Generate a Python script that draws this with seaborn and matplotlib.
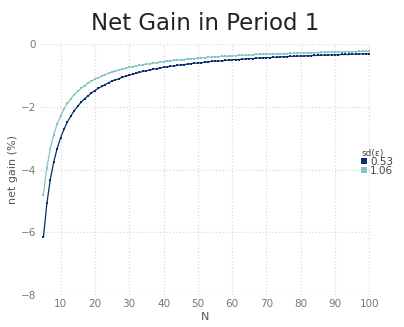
import pandas as pd
import seaborn as sns
import matplotlib.pyplot as plt

n_values = list(range(5, 101))

# net gain (%), one value per N
gain_053 = [-6.16, -5.08, -4.32, -3.76, -3.33, -2.99, -2.71, -2.48, -2.29, -2.12,
            -1.98, -1.85, -1.74, -1.65, -1.56, -1.48, -1.41, -1.35, -1.29, -1.23,
            -1.18, -1.14, -1.10, -1.06, -1.02, -0.99, -0.96, -0.93, -0.90, -0.87,
            -0.85, -0.82, -0.80, -0.78, -0.76, -0.74, -0.73, -0.71, -0.69, -0.68,
            -0.66, -0.65, -0.64, -0.62, -0.61, -0.60, -0.59, -0.58, -0.57, -0.55,
            -0.54, -0.54, -0.53, -0.52, -0.51, -0.50, -0.49, -0.49, -0.48, -0.47,
            -0.46, -0.46, -0.45, -0.44, -0.44, -0.43, -0.43, -0.42, -0.42, -0.41,
            -0.40, -0.40, -0.39, -0.39, -0.38, -0.38, -0.38, -0.37, -0.37, -0.36,
            -0.36, -0.35, -0.35, -0.35, -0.34, -0.34, -0.34, -0.33, -0.33, -0.33,
            -0.32, -0.32, -0.32, -0.31, -0.31, -0.31]
gain_106 = [-4.80, -3.94, -3.33, -2.89, -2.55, -2.29, -2.07, -1.89, -1.74, -1.61,
            -1.50, -1.41, -1.32, -1.25, -1.18, -1.12, -1.07, -1.02, -0.97, -0.93,
            -0.89, -0.86, -0.83, -0.80, -0.77, -0.74, -0.72, -0.70, -0.68, -0.66,
            -0.64, -0.62, -0.60, -0.59, -0.57, -0.56, -0.54, -0.53, -0.52, -0.51,
            -0.50, -0.49, -0.47, -0.47, -0.46, -0.45, -0.44, -0.43, -0.42, -0.41,
            -0.41, -0.40, -0.39, -0.39, -0.38, -0.37, -0.37, -0.36, -0.36, -0.35,
            -0.35, -0.34, -0.33, -0.33, -0.33, -0.32, -0.32, -0.31, -0.31, -0.30,
            -0.30, -0.30, -0.29, -0.29, -0.29, -0.28, -0.28, -0.28, -0.27, -0.27,
            -0.27, -0.26, -0.26, -0.26, -0.25, -0.25, -0.25, -0.25, -0.24, -0.24,
            -0.24, -0.24, -0.23, -0.23, -0.23, -0.23]
sd_labels = ['0.53', '1.06']

df = pd.concat([
    pd.DataFrame({'N': n_values, 'gain': gain_053, 'sd': sd_labels[0]}),
    pd.DataFrame({'N': n_values, 'gain': gain_106, 'sd': sd_labels[1]}),
])

sns.set_theme(style="white")
plt.rcParams['font.family'] = ['DejaVu Sans']

fig = plt.figure(figsize=(4.04, 3.27), dpi=100)
ax = fig.add_axes([0.099, 0.098, 0.817, 0.767])

palette = {'0.53': '#0b2d6b', '1.06': '#80c6c6'}
sns.lineplot(data=df, x='N', y='gain', hue='sd', palette=palette, marker='s',
             markersize=1.5, markeredgewidth=0, linewidth=0.9, ax=ax)

ax.set_xlim(4, 100.2)
ax.set_ylim(-8, 0)
ax.set_xticks(range(10, 101, 10))
ax.set_yticks([-8, -6, -4, -2, 0])
ax.grid(True, color='#d8d8ea', linestyle=':', linewidth=0.9)
for s in ax.spines.values():
    s.set_visible(False)
ax.tick_params(axis='both', length=0, labelsize=7.5, labelcolor='#777777', pad=3)
ax.set_xlabel('N', fontsize=8, color='#555555', labelpad=2)
ax.set_ylabel('net gain (%)', fontsize=8, color='#555555', labelpad=2)
ax.set_title('Net Gain in Period 1', fontsize=16.5, color='#222222', pad=10)

leg = ax.legend(title='sd(ε)', loc='upper left', bbox_to_anchor=(0.962, 0.6),
                frameon=False, fontsize=7.5, title_fontsize=6.5, handlelength=0.5,
                handletextpad=0.3, labelspacing=-0.1, borderaxespad=0,
                alignment='left')
for h in leg.legend_handles:
    h.set_linestyle('none')
    h.set_marker('s')
    h.set_markersize(4.5)
for t in leg.get_texts():
    t.set_color('#444444')
leg.get_title().set_color('#444444')

fig.savefig('out.png', dpi=100)
